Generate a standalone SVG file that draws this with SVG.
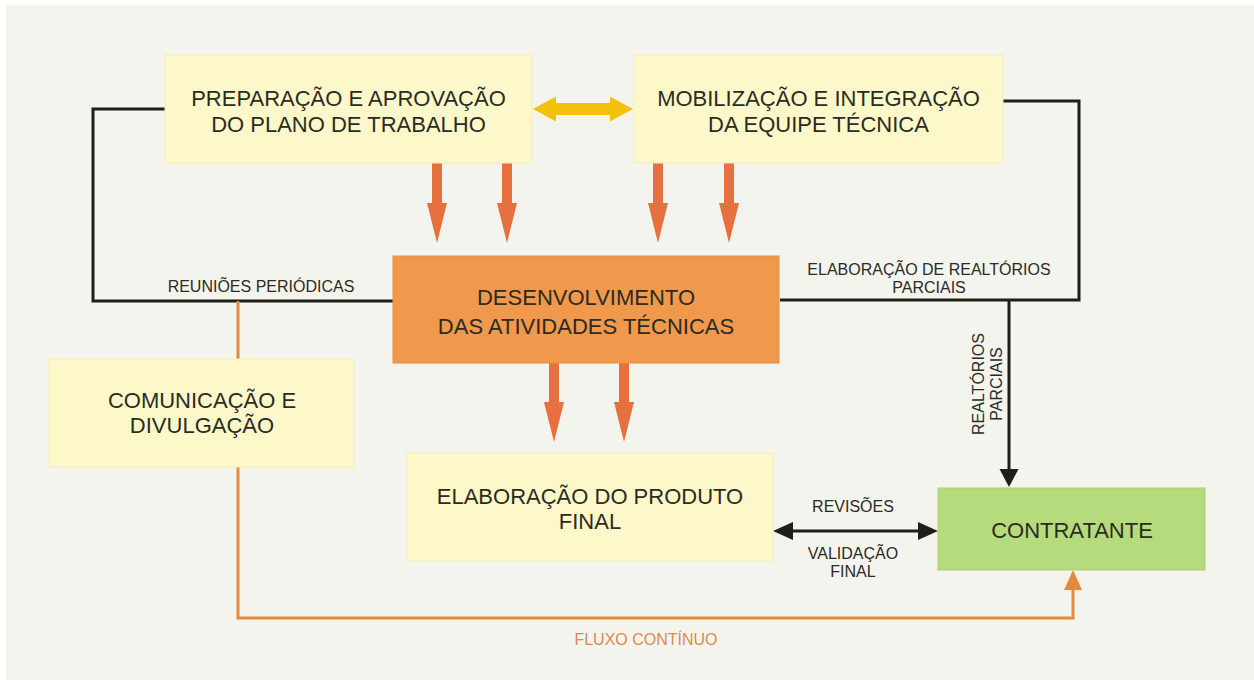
<svg xmlns="http://www.w3.org/2000/svg" width="1254" height="680" viewBox="0 0 1254 680">
<style>
.box{fill:#fdf8ca;stroke:#f3ebbb;stroke-width:1}
.t{font-family:"Liberation Sans",Arial,sans-serif;font-size:22px;fill:#2b2b22;text-anchor:middle}
.s{font-family:"Liberation Sans",Arial,sans-serif;font-size:16px;fill:#2b2b22;text-anchor:middle}
.bl{fill:none;stroke:#1e1e1a;stroke-width:3}
.ol{fill:none;stroke:#e38b3b;stroke-width:3}
.oa{fill:#e8703e}
</style>
<rect x="0" y="0" width="1254" height="680" fill="#ffffff"/>
<rect x="6" y="5" width="1248" height="675" fill="#f4f4ee"/>
<g id="connectors">
<path class="bl" d="M165,109 H93 V301 H393"/>
<path class="bl" d="M1003,101 H1079 V300 H780"/>
<path class="bl" d="M1009,300 V471"/>
<polygon fill="#1e1e1a" points="1009,487 999.5,469 1018.5,469"/>
<path class="bl" d="M791,531 H920"/>
<polygon fill="#1e1e1a" points="773,531 793,522 793,540"/>
<polygon fill="#1e1e1a" points="938,531 918,522 918,540"/>
<path class="ol" d="M238,301 V359"/>
<path class="ol" d="M238,467 V618 H1073 V588"/>
<polygon fill="#e38b3b" points="1073,570 1064,590 1082,590"/>
<polygon fill="#f4c10a" points="533,109 556,96.5 556,103 610,103 610,96.5 633,109 610,121.5 610,115 556,115 556,121.5"/>
<polygon class="oa" points="432,163 442,163 442,203 447,203 437,243 427,203 432,203"/>
<polygon class="oa" points="502,163 512,163 512,203 517,203 507,243 497,203 502,203"/>
<polygon class="oa" points="653,163 663,163 663,203 668,203 658,243 648,203 653,203"/>
<polygon class="oa" points="724,163 734,163 734,203 739,203 729,243 719,203 724,203"/>
<polygon class="oa" points="549,363 559,363 559,402 564,402 554,442 544,402 549,402"/>
<polygon class="oa" points="619,363 629,363 629,402 634,402 624,442 614,402 619,402"/>
<text class="s" x="261" y="292">REUNIÕES PERIÓDICAS</text>
<text class="s" x="929" y="275">ELABORAÇÃO DE REALTÓRIOS</text>
<text class="s" x="929" y="293">PARCIAIS</text>
<text class="s" x="984" y="384" transform="rotate(-90 984 384)">REALTÓRIOS</text>
<text class="s" x="1002" y="384" transform="rotate(-90 1002 384)">PARCIAIS</text>
<text class="s" x="853" y="512">REVISÕES</text>
<text class="s" x="853" y="559">VALIDAÇÃO</text>
<text class="s" x="853" y="577">FINAL</text>
<text class="s" x="646" y="645" style="fill:#e0884a">FLUXO CONTÍNUO</text>
</g>
<g id="preparacao">
<rect class="box" x="165" y="55" width="367" height="108"/>
<text class="t" x="348.5" y="106">PREPARAÇÃO E APROVAÇÃO</text>
<text class="t" x="348.5" y="132">DO PLANO DE TRABALHO</text>
</g>
<g id="mobilizacao">
<rect class="box" x="634" y="55" width="369" height="108"/>
<text class="t" x="818.5" y="106">MOBILIZAÇÃO E INTEGRAÇÃO</text>
<text class="t" x="818.5" y="132">DA EQUIPE TÉCNICA</text>
</g>
<g id="desenvolvimento">
<rect x="393" y="256" width="386" height="107" fill="#f0984c" stroke="#e98d42" stroke-width="1"/>
<text class="t" x="586" y="305">DESENVOLVIMENTO</text>
<text class="t" x="586" y="334">DAS ATIVIDADES TÉCNICAS</text>
</g>
<g id="comunicacao">
<rect class="box" x="49" y="359" width="305" height="108"/>
<text class="t" x="202" y="408">COMUNICAÇÃO E</text>
<text class="t" x="202" y="433">DIVULGAÇÃO</text>
</g>
<g id="produto">
<rect class="box" x="407" y="453" width="366" height="108"/>
<text class="t" x="590" y="504">ELABORAÇÃO DO PRODUTO</text>
<text class="t" x="590" y="529">FINAL</text>
</g>
<g id="contratante">
<rect x="938" y="488" width="267" height="82" fill="#b6db7c" stroke="#a9cf70" stroke-width="1"/>
<text class="t" x="1072" y="538">CONTRATANTE</text>
</g>
</svg>
